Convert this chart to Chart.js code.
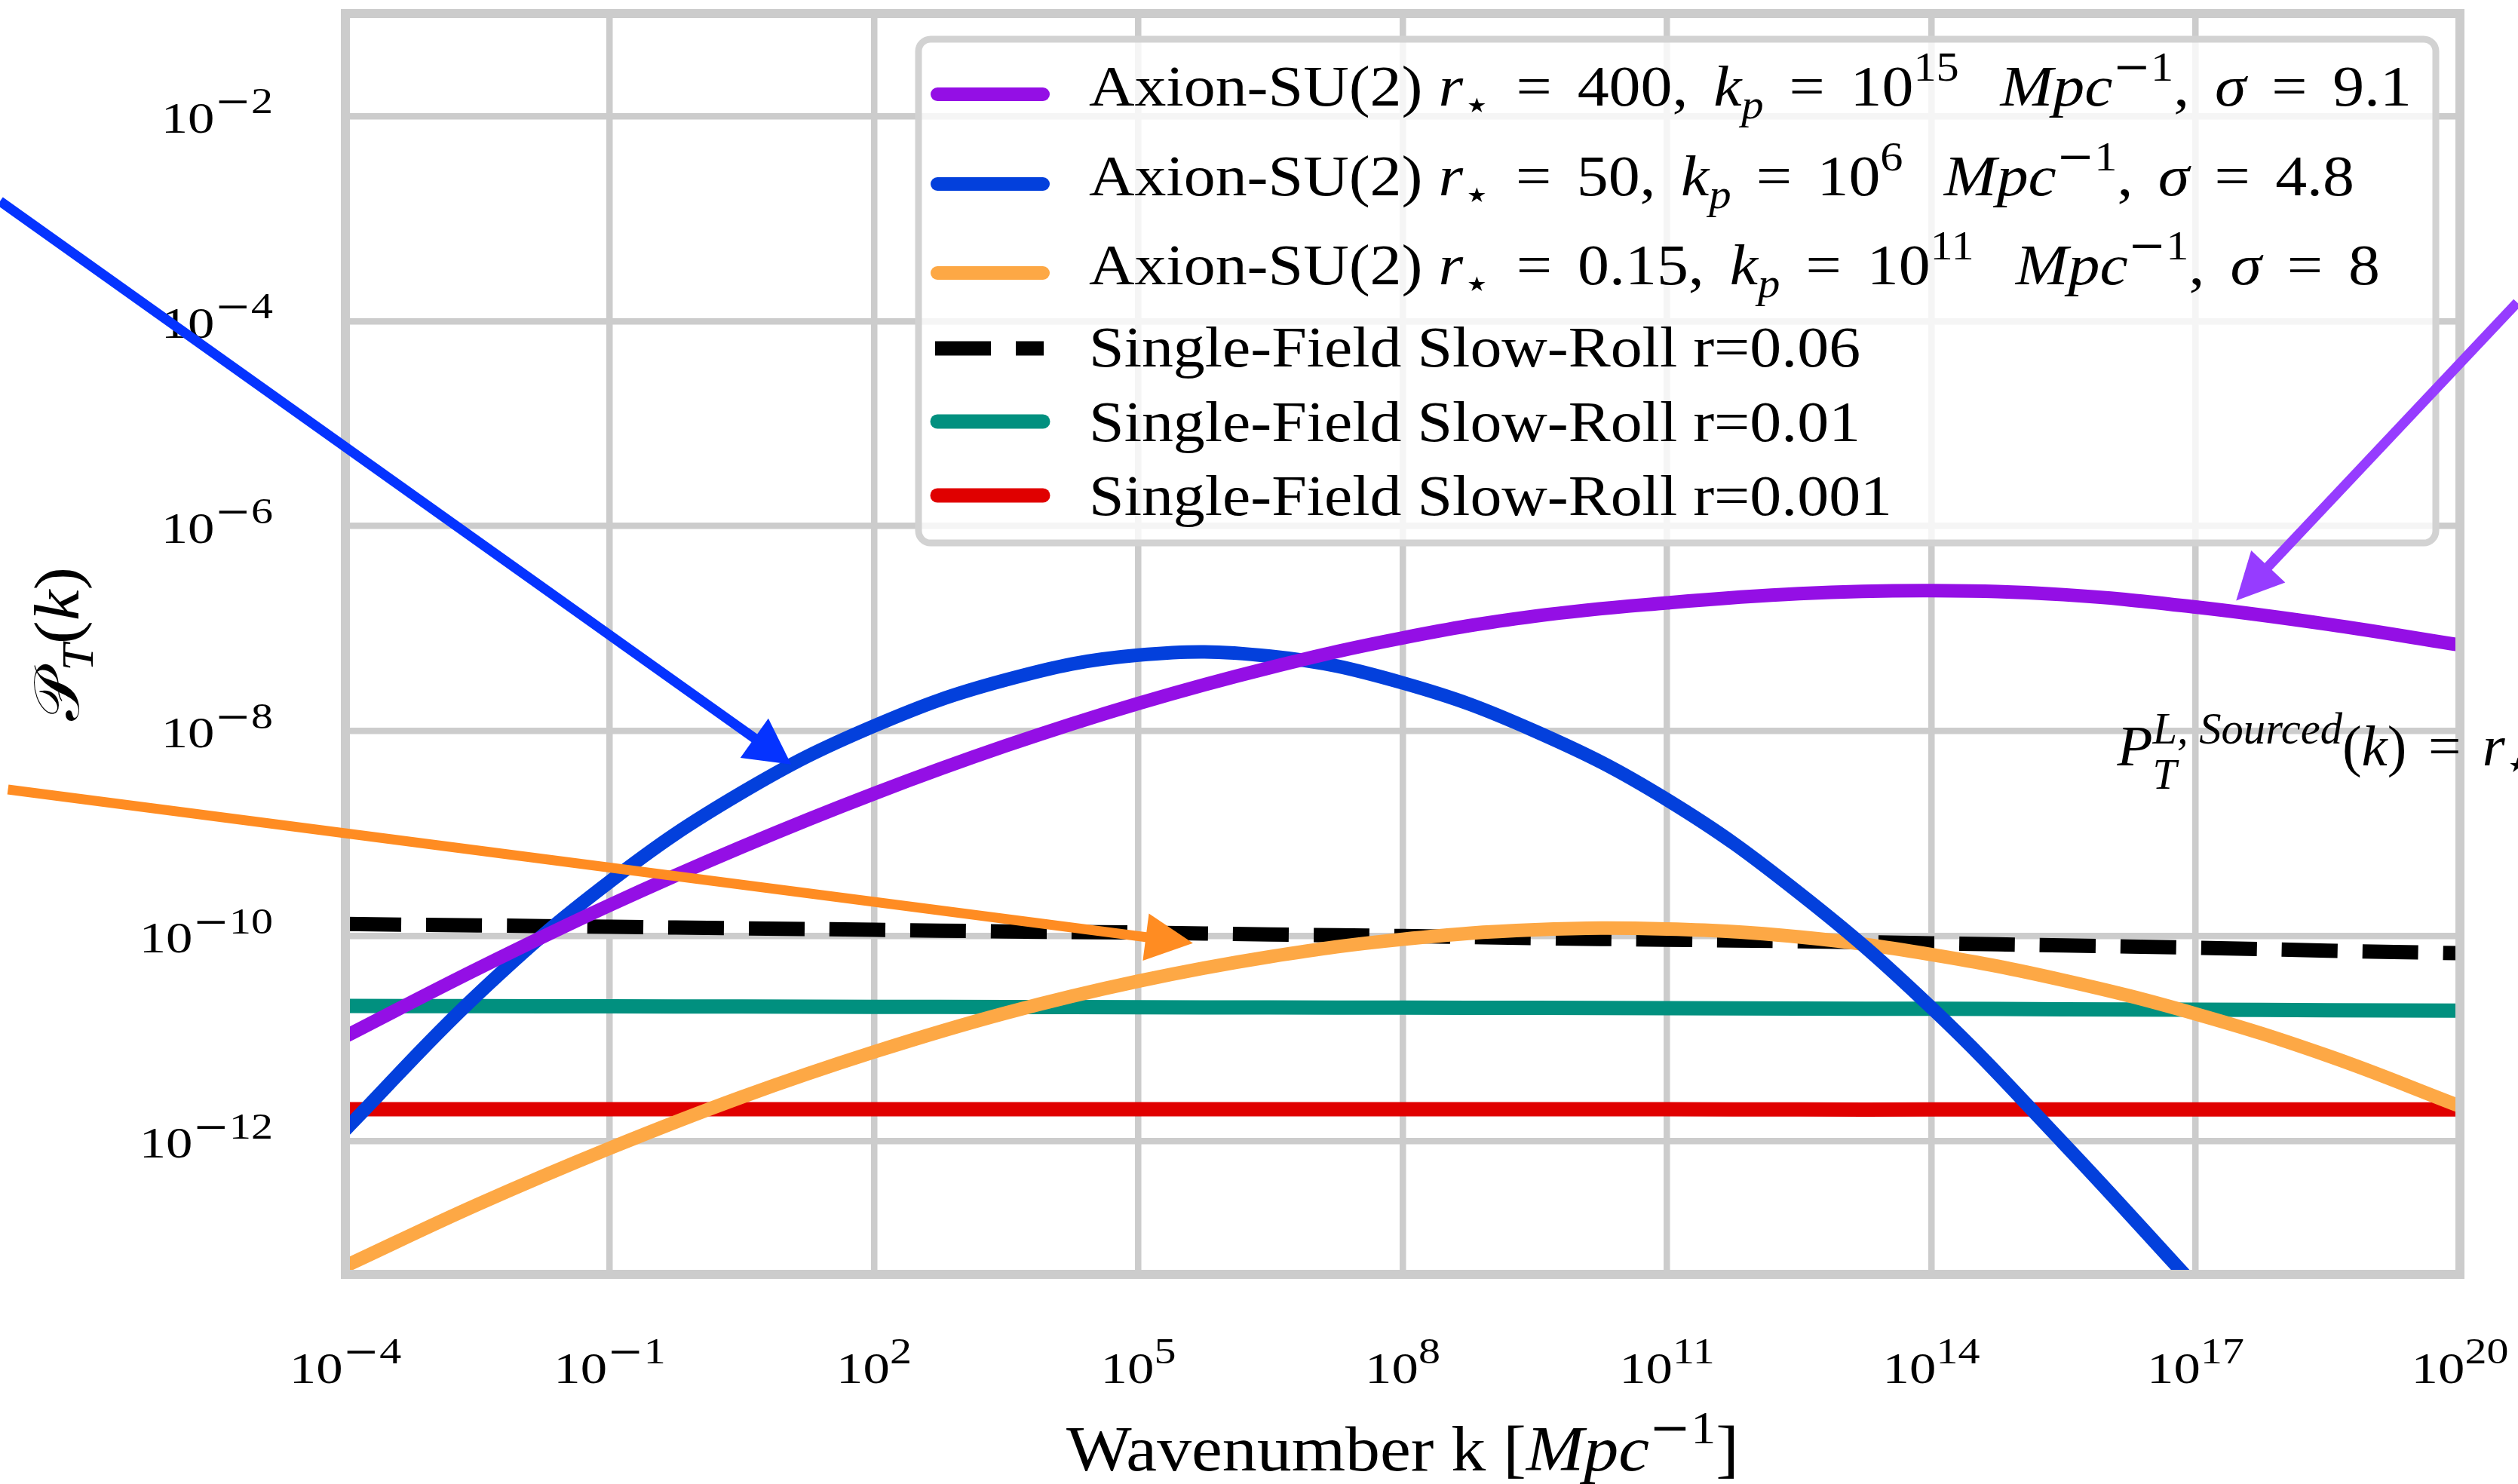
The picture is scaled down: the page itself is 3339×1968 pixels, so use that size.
<!DOCTYPE html>
<html>
<head>
<meta charset="utf-8">
<script src="https://cdn.jsdelivr.net/npm/chart.js@4.4.1/dist/chart.umd.min.js"></script>
<style>
  html, body { margin: 0; padding: 0; background: #ffffff; }
  #wrap { width: 3339px; height: 1968px; position: relative; overflow: hidden; }
  canvas { display: block; }
</style>
</head>
<body>
<div id="wrap"><canvas id="chart" width="3339" height="1968"></canvas></div>
<script>
// ---- Wavenumber grid (Mpc^-1) shared by every curve ----
const kGrid = [1e-4, 3.16e-3, 1e-1, 3.16, 1e2, 3.16e3, 1e5, 3.16e6, 1e8, 3.16e9,
               1e11, 3.16e12, 1e14, 3.16e15, 1e17, 3.16e18, 1e20];

// ---- Tensor power spectra P_T(k) ----
const axionR400 = [1.05e-11, 4.79e-11, 2.0e-10, 7.4e-10, 2.45e-9, 7.2e-9, 1.86e-8, 4.17e-8, 8.1e-8,
                   1.32e-7, 1.78e-7, 2.19e-7, 2.34e-7, 2.14e-7, 1.62e-7, 1.10e-7, 6.9e-8];
const axionR50  = [1.29e-12, 2.69e-11, 3.39e-10, 2.51e-9, 1.12e-8, 3.16e-8, 5.5e-8, 5.37e-8, 2.95e-8,
                   1.0e-8, 2.14e-9, 2.63e-10, 2.0e-11, 9.5e-13, 3.8e-14, null, null];
const axionR015 = [6.03e-14, 2.40e-13, 8.5e-13, 2.69e-12, 7.4e-12, 1.78e-11, 3.63e-11, 6.3e-11, 9.3e-11,
                   1.15e-10, 1.17e-10, 9.8e-11, 6.6e-11, 3.7e-11, 1.74e-11, 6.8e-12, 2.19e-12];
const slowRoll006  = [1.31e-10, 1.27e-10, 1.23e-10, 1.19e-10, 1.15e-10, 1.11e-10, 1.08e-10, 1.035e-10, 1.0e-10,
                      9.55e-11, 9.2e-11, 8.9e-11, 8.5e-11, 8.1e-11, 7.7e-11, 7.2e-11, 6.8e-11];
const slowRoll001  = [2.08e-11, 2.07e-11, 2.06e-11, 2.05e-11, 2.04e-11, 2.03e-11, 2.02e-11, 2.01e-11, 2.0e-11,
                      1.99e-11, 1.98e-11, 1.96e-11, 1.95e-11, 1.93e-11, 1.91e-11, 1.89e-11, 1.87e-11];
const slowRoll0001 = [2.04e-12, 2.04e-12, 2.04e-12, 2.04e-12, 2.04e-12, 2.04e-12, 2.04e-12, 2.04e-12, 2.04e-12,
                      2.04e-12, 2.04e-12, 2.03e-12, 2.03e-12, 2.03e-12, 2.03e-12, 2.03e-12, 2.03e-12];

// ---- Axis ranges and tick values ----
const kMin = 1e-4, kMax = 1e20;
const pMin = 5.0e-14, pMax = 1e-1;
const xTickValues = [1e-4, 1e-1, 1e2, 1e5, 1e8, 1e11, 1e14, 1e17, 1e20];
const yTickValues = [1e-12, 1e-10, 1e-8, 1e-6, 1e-4, 1e-2];

// ---- Legend / series labels ----
const seriesLabels = [
  'Axion-SU(2) r⋆ = 400, kp = 10^15 Mpc^-1, σ = 9.1',
  'Axion-SU(2) r⋆ = 50, kp = 10^6 Mpc^-1, σ = 4.8',
  'Axion-SU(2) r⋆ = 0.15, kp = 10^11 Mpc^-1, σ = 8',
  'Single-Field Slow-Roll r=0.06',
  'Single-Field Slow-Roll r=0.01',
  'Single-Field Slow-Roll r=0.001'
];

// ---- Annotation arrows, in (log10 k, log10 P): tail then head ----
const arrowBlue   = [[-7.92, -2.83], [1.06, -8.325]];
const arrowOrange = [[-7.83, -8.57], [5.62, -10.07]];
const arrowPurple = [[20.65, -3.82], [17.46, -6.727]];
const sourcedLabelAt = [16.11, -8.332];

// ---------------------------------------------------------------
const SERIF = '"Liberation Serif"';
const MINUS_FONT = '"DejaVu Serif"';
const SYM_FONT = '"DejaVu Sans"';

function sup(t, extra) { return Object.assign({ t, s: 0.72, dy: -0.43 }, extra || {}); }
function sub(t, extra) { return Object.assign({ t, s: 0.70, dy: 0.22 }, extra || {}); }
function supMinus(extra) { return sup('−', Object.assign({ f: MINUS_FONT }, extra || {})); }

function axionRuns(rs, kpExp, sig) {
  return [
    { t: 'Axion-SU(2) ' }, { t: 'r', it: 1 }, sub('⋆', { f: SYM_FONT }),
    { t: ' ', flex: 1 }, { t: '= ', flex: 1 }, { t: rs + ',' }, { t: ' ', flex: 1 },
    { t: 'k', it: 1 }, sub('p', { it: 1 }), { t: ' ', flex: 1 }, { t: '= ', flex: 1 },
    { t: '10' }, sup(kpExp), { t: '  ', flex: 1 },
    { t: 'Mpc', it: 1 }, supMinus(), sup('1'), { t: ',' }, { t: ' ', flex: 1 },
    { t: 'σ', it: 1 }, { t: ' ', flex: 1 }, { t: '= ', flex: 1 }, { t: sig }
  ];
}
const legendRuns = [
  axionRuns('400', '15', '9.1'),
  axionRuns('50', '6', '4.8'),
  axionRuns('0.15', '11', '8'),
  [{ t: seriesLabels[3] }],
  [{ t: seriesLabels[4] }],
  [{ t: seriesLabels[5] }]
];
// text extents of the legend rows, in pixels
const legendRowWidths = [1754, 1678, 1712, 1026, 1026, 1065];

function runFont(r, S) {
  const size = S * (r.s || 1);
  return (r.it ? 'italic ' : '') + size.toFixed(2) + 'px ' + (r.f || SERIF);
}
function runAdvance(ctx, r, S) {
  if (r.stack) return Math.max.apply(null, r.stack.map(q => runAdvance(ctx, q, S)));
  ctx.font = runFont(r, S);
  return ctx.measureText(r.t).width + (r.gap || 0) * S;
}
function runsWidth(ctx, runs, S) {
  let w = 0;
  for (const r of runs) w += runAdvance(ctx, r, S);
  return w;
}
// draws a list of styled runs; `extra` px are shared out between flex runs
function drawRuns(ctx, runs, x, y, S, sx, extra) {
  const shares = runs.reduce((n, r) => n + (r.flex || 0), 0);
  const per = shares && extra ? extra / shares / sx : 0;
  ctx.save();
  ctx.translate(x, y);
  ctx.scale(sx, 1);
  ctx.textAlign = 'left';
  ctx.textBaseline = 'alphabetic';
  let cx = 0;
  for (const r of runs) {
    const items = r.stack || [r];
    for (const q of items) {
      ctx.font = runFont(q, S);
      ctx.fillText(q.t, cx, (q.dy || 0) * S);
    }
    cx += runAdvance(ctx, r, S) + (r.flex || 0) * per;
  }
  ctx.restore();
}
function powerRuns(v) {
  const e = Math.round(Math.log10(v));
  const runs = [{ t: '10' }];
  if (e < 0) runs.push({ t: '−', s: TICK_SUP, dy: -0.44, f: MINUS_FONT });
  runs.push({ t: String(Math.abs(e)), s: TICK_SUP, dy: -0.44 });
  return runs;
}

function pt(chart, lk, lp) {
  return [chart.scales.x.getPixelForValue(Math.pow(10, lk)),
          chart.scales.y.getPixelForValue(Math.pow(10, lp))];
}
function drawArrow(ctx, chart, spec, color, width, headLen, headW) {
  const [x0, y0] = pt(chart, spec[0][0], spec[0][1]);
  const [x1, y1] = pt(chart, spec[1][0], spec[1][1]);
  const ang = Math.atan2(y1 - y0, x1 - x0);
  const bx = x1 - Math.cos(ang) * headLen, by = y1 - Math.sin(ang) * headLen;
  ctx.save();
  ctx.strokeStyle = color; ctx.fillStyle = color;
  ctx.lineWidth = width; ctx.lineCap = 'butt';
  ctx.beginPath(); ctx.moveTo(x0, y0); ctx.lineTo(bx + Math.cos(ang) * 4, by + Math.sin(ang) * 4); ctx.stroke();
  const nx = -Math.sin(ang), ny = Math.cos(ang);
  ctx.beginPath();
  ctx.moveTo(x1, y1);
  ctx.lineTo(bx + nx * headW / 2, by + ny * headW / 2);
  ctx.lineTo(bx - nx * headW / 2, by - ny * headW / 2);
  ctx.closePath(); ctx.fill();
  ctx.restore();
}

const TEXT_S = 77;       // legend font size
const TICK_S = 58;       // tick-label font size
const TICK_SUP = 0.82;   // tick exponent scale
const TICK_SX = 1.22;    // horizontal stretch of tick labels
let TEXT_SX = 1.0;

const decor = {
  id: 'decor',
  afterDatasetsDraw(chart) {
    const ctx = chart.ctx;
    const a = chart.chartArea;

    // axes frame
    ctx.save();
    ctx.strokeStyle = '#cccccc';
    ctx.lineWidth = 12;
    ctx.strokeRect(a.left, a.top, a.right - a.left, a.bottom - a.top);
    ctx.restore();

    // glyph stretch taken from the plain legend rows
    TEXT_SX = legendRowWidths[5] / runsWidth(ctx, legendRuns[5], TEXT_S);

    // legend box
    const lb = { x: 1218, y: 52, w: 2012, h: 668, r: 16 };
    ctx.save();
    ctx.beginPath();
    ctx.roundRect(lb.x, lb.y, lb.w, lb.h, lb.r);
    ctx.fillStyle = 'rgba(255,255,255,0.8)';
    ctx.fill();
    ctx.strokeStyle = '#d2d2d2';
    ctx.lineWidth = 9;
    ctx.stroke();
    ctx.restore();

    const handleY = [125, 244, 362, 462, 559, 657];
    const textY = [140, 259, 377, 486, 585, 683];
    chart.data.datasets.forEach((ds, i) => {
      ctx.save();
      ctx.strokeStyle = ds.borderColor;
      ctx.lineWidth = ds.borderWidth;
      ctx.lineCap = ds.borderDash ? 'butt' : 'round';
      if (ds.borderDash) ctx.setLineDash(ds.borderDash);
      ctx.beginPath();
      if (ds.borderDash) { ctx.moveTo(1240, handleY[i]); ctx.lineTo(1384, handleY[i]); }
      else { ctx.moveTo(1243, handleY[i]); ctx.lineTo(1383, handleY[i]); }
      ctx.stroke();
      ctx.restore();
      ctx.fillStyle = '#000';
      const natural = runsWidth(ctx, legendRuns[i], TEXT_S) * TEXT_SX;
      drawRuns(ctx, legendRuns[i], 1444, textY[i], TEXT_S, TEXT_SX, Math.max(0, legendRowWidths[i] - natural));
    });
  },
  afterDraw(chart) {
    const ctx = chart.ctx;
    const a = chart.chartArea;
    const xs = chart.scales.x, ys = chart.scales.y;
    ctx.fillStyle = '#000';

    // x tick labels
    xTickValues.forEach(v => {
      const runs = powerRuns(v);
      const w = runsWidth(ctx, runs, TICK_S) * TICK_SX;
      drawRuns(ctx, runs, xs.getPixelForValue(v) - w / 2, 1834, TICK_S, TICK_SX);
    });
    // y tick labels
    yTickValues.forEach(v => {
      const runs = powerRuns(v);
      const w = runsWidth(ctx, runs, TICK_S) * TICK_SX;
      drawRuns(ctx, runs, 362 - w, ys.getPixelForValue(v) + 22, TICK_S, TICK_SX);
    });

    // x axis title
    const xt = [{ t: 'Wavenumber k [' }, { t: 'Mpc', it: 1 }, supMinus(), sup('1'), { t: ']' }];
    const titleS = TEXT_S * 892 / (runsWidth(ctx, xt, TEXT_S) * TEXT_SX);
    const xw = runsWidth(ctx, xt, titleS) * TEXT_SX;
    drawRuns(ctx, xt, (a.left + a.right) / 2 - xw / 2, 1950, titleS, TEXT_SX);

    // y axis title (rotated)
    const yt = [{ t: '𝒫', f: '"DejaVu Sans", "DejaVu Serif", ' + SERIF }, sub('T', { it: 1 }),
                { t: '(' }, { t: 'k', it: 1 }, { t: ')' }];
    const yw = runsWidth(ctx, yt, titleS) * TEXT_SX;
    ctx.save();
    ctx.translate(104, (a.top + a.bottom) / 2);
    ctx.rotate(-Math.PI / 2);
    drawRuns(ctx, yt, -yw / 2, 0, titleS, TEXT_SX);
    ctx.restore();

    // sourced-spectrum formula
    const [fx, fy] = pt(chart, sourcedLabelAt[0], sourcedLabelAt[1]);
    const ft = [
      { t: 'P', it: 1 },
      { stack: [{ t: 'L, Sourced', it: 1, s: 0.76, dy: -0.37 }, { t: 'T', it: 1, s: 0.74, dy: 0.41 }] },
      { t: '(' }, { t: 'k', it: 1 }, { t: ')', gap: 0.12 }, { t: ' = ', gap: 0.12 },
      { t: 'r', it: 1 }, sub('⋆', { f: SYM_FONT }), { t: '(k)' }
    ];
    drawRuns(ctx, ft, fx, fy, 77, 1.0);

    // arrows
    drawArrow(ctx, chart, arrowBlue, '#0533ff', 13, 60, 64);
    drawArrow(ctx, chart, arrowOrange, '#ff8c22', 13, 63, 63);
    drawArrow(ctx, chart, arrowPurple, '#963cff', 13, 62, 62);
  }
};

function series(values) { return kGrid.map((k, i) => ({ x: k, y: values[i] })); }

const common = { pointRadius: 0, pointHoverRadius: 0, tension: 0.4, clip: 0,
                 borderCapStyle: 'butt', borderJoinStyle: 'round', fill: false, spanGaps: false };

new Chart(document.getElementById('chart'), {
  type: 'line',
  data: {
    datasets: [
      Object.assign({ label: seriesLabels[0], data: series(axionR400), borderColor: '#940fe5', borderWidth: 18 }, common),
      Object.assign({ label: seriesLabels[1], data: series(axionR50), borderColor: '#0340dc', borderWidth: 18 }, common),
      Object.assign({ label: seriesLabels[2], data: series(axionR015), borderColor: '#fda845', borderWidth: 18 }, common),
      Object.assign({ label: seriesLabels[3], data: series(slowRoll006), borderColor: '#000000', borderWidth: 19, borderDash: [74, 33] }, common),
      Object.assign({ label: seriesLabels[4], data: series(slowRoll001), borderColor: '#01907f', borderWidth: 19 }, common),
      Object.assign({ label: seriesLabels[5], data: series(slowRoll0001), borderColor: '#e00000', borderWidth: 19 }, common)
    ]
  },
  options: {
    responsive: false,
    animation: false,
    devicePixelRatio: 1,
    layout: { padding: { left: 458, right: 77, top: 18, bottom: 278 } },
    plugins: { legend: { display: false }, tooltip: { enabled: false } },
    scales: {
      x: {
        type: 'logarithmic', min: kMin, max: kMax, bounds: 'data',
        ticks: { display: false },
        grid: { color: '#cccccc', lineWidth: 8.5, drawTicks: false },
        border: { display: false },
        afterBuildTicks: s => { s.ticks = xTickValues.map(v => ({ value: v })); },
        afterFit: s => { s.height = 0; }
      },
      y: {
        type: 'logarithmic', min: pMin, max: pMax, bounds: 'data',
        ticks: { display: false },
        grid: { color: '#cccccc', lineWidth: 8.5, drawTicks: false },
        border: { display: false },
        afterBuildTicks: s => { s.ticks = yTickValues.map(v => ({ value: v })); },
        afterFit: s => { s.width = 0; }
      }
    }
  },
  plugins: [decor]
});
</script>
</body>
</html>
